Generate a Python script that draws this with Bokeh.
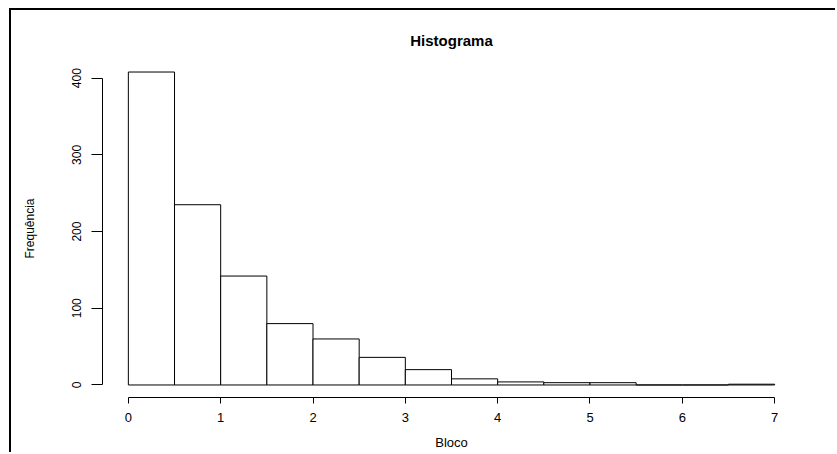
from bokeh.plotting import figure
from bokeh.models import Range1d, FixedTicker
from bokeh.embed import file_html
from bokeh.resources import INLINE

# Data
bin_edges = [0.0, 0.5, 1.0, 1.5, 2.0, 2.5, 3.0, 3.5, 4.0, 4.5, 5.0, 5.5, 6.0, 6.5, 7.0]
counts = [408, 235, 142, 80, 60, 36, 20, 8, 4, 3, 3, 0, 0, 1]
x_ticks = [0, 1, 2, 3, 4, 5, 6, 7]
y_ticks = [0, 100, 200, 300, 400]

title_text = "Histograma"
x_label = "Bloco"
y_label = "Frequência"

FONT = "Liberation Sans"

xmin, xmax = bin_edges[0], bin_edges[-1]
ymin, ymax = 0, max(counts)
xpad = (xmax - xmin) * 0.04
ypad = (ymax - ymin) * 0.04

p = figure(
    width=826, height=444,
    output_backend="svg", toolbar_location=None,
    x_range=Range1d(xmin - xpad, xmax + xpad),
    y_range=Range1d(ymin - ypad, ymax + ypad),
    title=title_text,
    min_border_left=91, min_border_right=37,
    min_border_top=49, min_border_bottom=57,
)
p.styles = {
    "margin-left": "9px", "margin-top": "8px",
    "border-left": "2px solid black", "border-top": "2px solid black",
}

p.quad(left=bin_edges[:-1], right=bin_edges[1:], bottom=0, top=counts,
       fill_color="white", line_color="black", line_width=1)

p.title.align = "center"
p.title.text_font = FONT
p.title.text_font_size = "15px"
p.title.text_font_style = "bold"
p.title.text_color = "black"
p.title.standoff = 22

p.xgrid.visible = False
p.ygrid.visible = False
p.outline_line_color = None
p.background_fill_color = "white"
p.border_fill_color = "white"

xa = p.xaxis[0]
xa.ticker = FixedTicker(ticks=x_ticks)
xa.bounds = (xmin, xmax)
xa.minor_tick_line_color = None
xa.major_tick_in = 0
xa.major_tick_out = 6
xa.axis_line_color = "black"
xa.major_tick_line_color = "black"
xa.major_label_text_font = FONT
xa.major_label_text_font_size = "13px"
xa.major_label_text_color = "black"
xa.major_label_standoff = 9
xa.axis_label = x_label
xa.axis_label_text_font = FONT
xa.axis_label_text_font_size = "13px"
xa.axis_label_text_font_style = "normal"
xa.axis_label_text_color = "black"
xa.axis_label_standoff = 10

ya = p.yaxis[0]
ya.ticker = FixedTicker(ticks=y_ticks)
ya.bounds = (0, 400)
ya.minor_tick_line_color = None
ya.major_tick_in = 0
ya.major_tick_out = 11
ya.axis_line_color = "black"
ya.major_tick_line_color = "black"
ya.major_label_orientation = "vertical"
ya.major_label_text_font = FONT
ya.major_label_text_font_size = "12px"
ya.major_label_text_color = "black"
ya.major_label_standoff = 10
ya.axis_label = y_label
ya.axis_label_text_font = FONT
ya.axis_label_text_font_size = "12px"
ya.axis_label_text_font_style = "normal"
ya.axis_label_text_color = "black"
ya.axis_label_standoff = 33

open("out.html", "w").write(file_html(p, INLINE))
